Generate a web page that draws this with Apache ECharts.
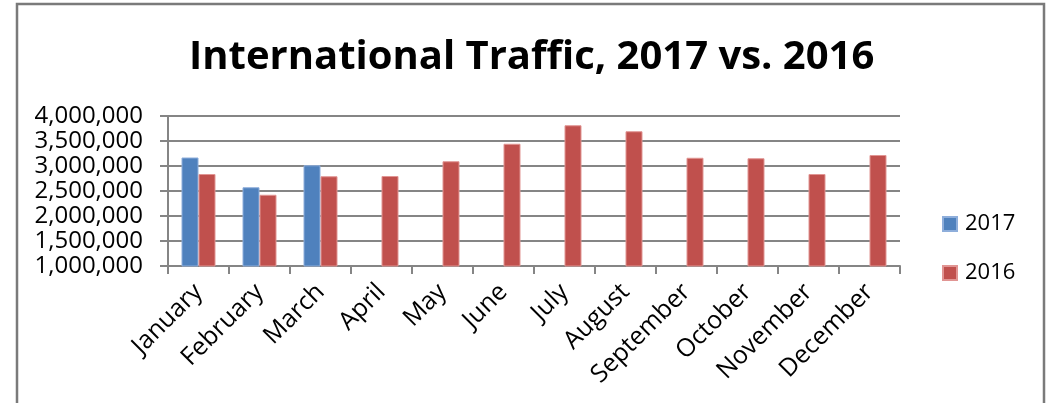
<!DOCTYPE html>
<html>
<head>
<meta charset="utf-8">
<script src="https://cdn.jsdelivr.net/npm/echarts@6/dist/echarts.min.js"></script>
<style>
  html, body { margin: 0; padding: 0; background: #fff; }
  #chart { width: 1050px; height: 403px; }
</style>
</head>
<body>
<div id="chart"></div>
<script>
// months on the x axis
var months = ['January', 'February', 'March', 'April', 'May', 'June', 'July',
  'August', 'September', 'October', 'November', 'December'];
// traffic per month
var traffic2017 = [3170000, 2575000, 3015000, 0, 0, 0, 0, 0, 0, 0, 0, 0];
var traffic2016 = [2840000, 2425000, 2795000, 2800000, 3095000, 3445000, 3815000,
  3695000, 3165000, 3155000, 2840000, 3220000];
var seriesNames = ['2017', '2016'];
var yTicks = { min: 1000000, max: 4000000, step: 500000 };

var font = '"Open Sans", "Liberation Sans", sans-serif';
var gridColor = '#858585';

var chart = echarts.init(document.getElementById('chart'), null, { renderer: 'canvas' });

var option = {
  backgroundColor: '#fff',
  animation: false,
  title: {
    text: 'International Traffic, 2017 vs. 2016',
    left: 189,
    top: 38,
    padding: 0,
    textStyle: { fontFamily: font, fontSize: 40, fontWeight: 'bold', color: '#000' }
  },
  legend: {
    orient: 'vertical',
    left: 942,
    top: 213,
    padding: 0,
    icon: 'rect',
    itemWidth: 14,
    itemHeight: 14,
    itemGap: 27,
    textStyle: { fontFamily: font, fontSize: 22, color: '#000', padding: [0, 0, 0, 3] },
    data: seriesNames
  },
  grid: { left: 168, right: 150, top: 116, bottom: 137 },
  xAxis: {
    type: 'category',
    data: months,
    axisLine: { lineStyle: { color: gridColor, width: 2 } },
    axisTick: { show: true, length: 8, alignWithLabel: false, lineStyle: { color: gridColor, width: 2 } },
    axisLabel: {
      interval: 0,
      rotate: 45,
      margin: 22,
      fontFamily: font,
      fontSize: 25,
      color: '#000'
    }
  },
  yAxis: {
    type: 'value',
    min: yTicks.min,
    max: yTicks.max,
    interval: yTicks.step,
    axisLine: { show: true, lineStyle: { color: gridColor, width: 2 } },
    axisTick: { show: true, length: 8, lineStyle: { color: gridColor, width: 2 } },
    splitLine: { lineStyle: { color: gridColor, width: 2 } },
    axisLabel: {
      margin: 25,
      fontFamily: font,
      fontSize: 24,
      color: '#000',
      formatter: function (v) { return v.toLocaleString('en-US'); }
    }
  },
  series: [
    {
      name: seriesNames[0],
      type: 'bar',
      data: traffic2017,
      barWidth: 17,
      barGap: '0%',
      itemStyle: { color: '#4F81BD', borderColor: '#8eaedb', borderWidth: 1 }
    },
    {
      name: seriesNames[1],
      type: 'bar',
      data: traffic2016,
      barWidth: 17,
      barGap: '0%',
      itemStyle: { color: '#C0504D', borderColor: '#e19593', borderWidth: 1 }
    }
  ],
  graphic: [
    {
      // outer frame of the chart
      type: 'rect',
      shape: { x: 17, y: 4, width: 1027, height: 430 },
      style: { fill: 'none', stroke: '#7a7a7a', lineWidth: 2.5 },
      silent: true
    }
  ]
};

chart.setOption(option);
</script>
</body>
</html>
